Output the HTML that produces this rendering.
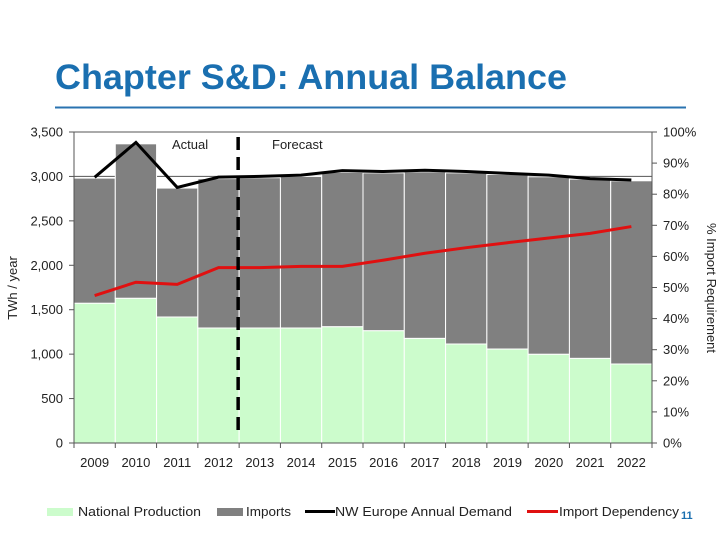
<!DOCTYPE html>
<html><head><meta charset="utf-8"><style>
body{margin:0;width:720px;height:540px;background:#fff;overflow:hidden;font-family:"Liberation Sans",sans-serif;}
svg{position:absolute;left:0;top:0}
</style></head><body>
<svg id="c" width="720" height="540">
<text x="55" y="89" font-size="35" font-weight="bold" fill="#1a6fb0" textLength="512" lengthAdjust="spacingAndGlyphs">Chapter S&amp;D: Annual Balance</text>
<line x1="55" y1="107.5" x2="686" y2="107.5" stroke="#2a73b0" stroke-width="2"/>
<g id="plot"></g>
</svg>
<script>
const years=["2009","2010","2011","2012","2013","2014","2015","2016","2017","2018","2019","2020","2021","2022"];
const production=[1572,1628,1418,1294,1294,1294,1308,1263,1177,1114,1057,998,952,889];
const totalSupply=[2981,3367,2869,2975,2985,3000,3045,3040,3052,3040,3022,2996,2970,2951];
const demand=[2990,3383,2876,2992,3000,3015,3065,3055,3070,3055,3035,3015,2975,2960];
const importDep=[47.4,51.7,51.0,56.4,56.4,56.8,56.8,58.8,61.0,62.8,64.4,65.9,67.4,69.6];
const leftTicks=[0,500,1000,1500,2000,2500,3000,3500];
const rightTicks=[0,10,20,30,40,50,60,70,80,90,100];

const NS="http://www.w3.org/2000/svg";
const g=document.getElementById('plot');
const X0=74,X1=652,Y0=443,Y1=132;
const bw=(X1-X0)/years.length;
const yL=v=>Y0-(v/3500)*(Y0-Y1);
const yR=v=>Y0-(v/100)*(Y0-Y1);
const xC=i=>X0+bw*(i+0.5);
function el(t,a,p){const e=document.createElementNS(NS,t);for(const k in a)e.setAttribute(k,a[k]);(p||g).appendChild(e);return e;}
function tx(x,y,s,a){const e=el('text',Object.assign({x:x,y:y,'font-size':13,fill:'#222'},a||{}));e.textContent=s;return e;}

let gl=el('line',{x1:X0,x2:X1,y1:yL(3000),y2:yL(3000),stroke:'#555','stroke-width':1});


let tb=el('line',{x1:X0,x2:X1,y1:Y1,y2:Y1,stroke:'#555','stroke-width':1});



years.forEach((y,i)=>{
  const x=X0+bw*i;
  let r1=el('rect',{x:x,y:yL(totalSupply[i]),width:bw,height:yL(production[i])-yL(totalSupply[i]),fill:'#808080',stroke:'#fff','stroke-width':1});
  
  
  let r2=el('rect',{x:x,y:yL(production[i]),width:bw,height:Y0-yL(production[i]),fill:'#ccfccc',stroke:'#fff','stroke-width':1});
  
  
  let t=tx(xC(i),467,y,{'text-anchor':'middle'});
  
  
  el('line',{x1:X0+bw*i,x2:X0+bw*i,y1:Y0,y2:Y0+5,stroke:'#555'});
});
el('line',{x1:X1,x2:X1,y1:Y0,y2:Y0+5,stroke:'#555'});

let ax=el('line',{x1:X0,x2:X0,y1:Y1,y2:Y0,stroke:'#555'});


let ax2=el('line',{x1:X1,x2:X1,y1:Y1,y2:Y0,stroke:'#555'});


let ax3=el('line',{x1:X0,x2:X1,y1:Y0,y2:Y0,stroke:'#555'});



leftTicks.forEach(v=>{
  el('line',{x1:X0-5,x2:X0,y1:yL(v),y2:yL(v),stroke:'#555'});
  let t=tx(63,yL(v)+4.5,v.toLocaleString('en-US'),{'text-anchor':'end'});
  
  
});
rightTicks.forEach(v=>{
  el('line',{x1:X1,x2:X1+5,y1:yR(v),y2:yR(v),stroke:'#555'});
  let t=tx(663,yR(v)+4.5,v+'%');
  
  
});

let dl=el('polyline',{points:demand.map((v,i)=>xC(i)+','+yL(v)).join(' '),fill:'none',stroke:'#000','stroke-width':3});


let il=el('polyline',{points:importDep.map((v,i)=>xC(i)+','+yR(v)).join(' '),fill:'none',stroke:'#e01010','stroke-width':3});



let dv=el('line',{x1:X0+bw*4-1,x2:X0+bw*4-1,y1:137,y2:436,stroke:'#000','stroke-width':3.5,'stroke-dasharray':'13,7'});


let a=tx(172,149,'Actual');


let f=tx(272,149,'Forecast');



let lt=tx(0,0,'TWh / year',{transform:'translate(17,288) rotate(-90)','text-anchor':'middle'});


let rt=tx(0,0,'% Import Requirement',{transform:'translate(707,288) rotate(90)','text-anchor':'middle'});



// legend: [label, type, color, swatchStart, swatchEnd, textStart, textLength]
const L=[['National Production','rect','#ccfccc',47,73,78,123],['Imports','rect','#808080',217,243,246,45],['NW Europe Annual Demand','line','#000',305,335,335,177],['Import Dependency','line','#e01010',527,558,559,120]];
L.forEach(l=>{
  let gr=el('g',{});
  
  
  if(l[1]=='rect') el('rect',{x:l[3],y:508,width:l[4]-l[3],height:8,fill:l[2]},gr);
  else el('line',{x1:l[3],x2:l[4],y1:511.5,y2:511.5,stroke:l[2],'stroke-width':3},gr);
  let t=el('text',{x:l[5],y:516,'font-size':13,fill:'#222',textLength:l[6],lengthAdjust:'spacingAndGlyphs'},gr);t.textContent=l[0];
});
let pn=tx(681,519,'11',{'font-size':11,'font-weight':'bold',fill:'#1a6fb0'});


</script>
</body></html>
